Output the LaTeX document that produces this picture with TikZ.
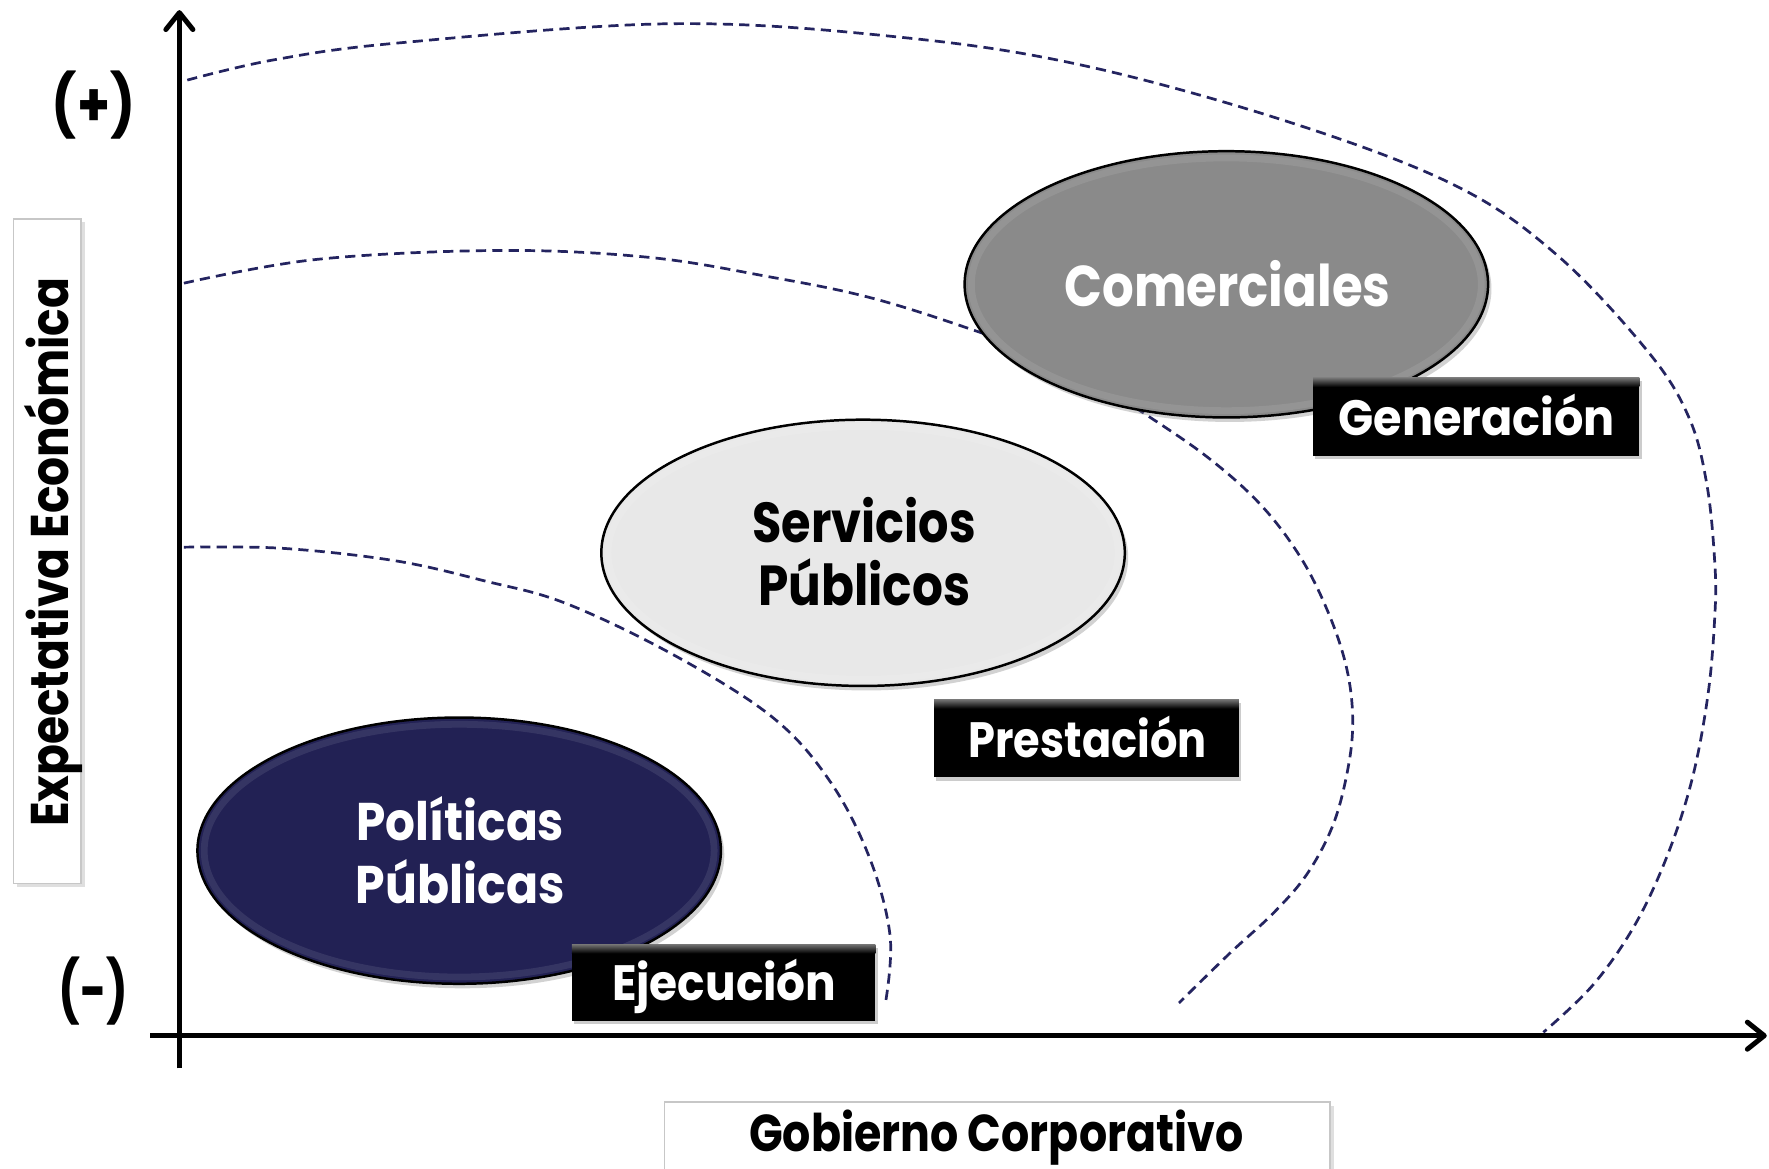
\documentclass[tikz,border=0pt]{standalone}
\usepackage{fontspec}
\setmainfont{Poppins}
\usepackage{graphicx}
\usetikzlibrary{shapes.geometric,shadows,arrows.meta}
\definecolor{navyd}{RGB}{36,36,96}
\definecolor{polfill}{RGB}{34,33,84}
\definecolor{servfill}{RGB}{232,232,232}
\definecolor{comfill}{RGB}{138,138,138}
\newcommand\wfit[2]{\resizebox{#1pt}{\height}{#2}}
\tikzset{
  guide/.style={draw=navyd, line width=2.4pt, dash pattern=on 9pt off 5.5pt},
  axisline/.style={line width=4.4pt, draw=black, -{Straight Barb[length=15pt,width=24pt,round]}},
  oval/.style={ellipse, draw=black, line width=2.2pt, inner sep=0pt, outer sep=0pt,
     minimum width=464pt, minimum height=236pt,
     drop shadow={shadow xshift=3pt, shadow yshift=-4pt, opacity=0.35}},
  bevel/.style={white, opacity=0.09, line width=6pt},
  blackbox/.style={rectangle, fill=black, draw=none, inner sep=0pt, outer sep=0pt,
     drop shadow={shadow xshift=2pt, shadow yshift=-3pt, opacity=0.4}},
  whitebox/.style={rectangle, fill=white, draw=black!22, line width=1.5pt, inner sep=0pt,
     drop shadow={shadow xshift=3pt, shadow yshift=-3pt, opacity=0.25}},
  lbl/.style={inner sep=0pt, outer sep=0pt, anchor=base},
}
\begin{document}
\begin{tikzpicture}[x=1pt,y=-1pt]
\useasboundingbox (0,0) rectangle (1568,1036);
\fill[white] (0,0) rectangle (1568,1036);

% dashed guide curves
\draw[guide] plot[smooth, tension=0.6] coordinates {(166,71) (243,53) (354,38) (596,21) (798,33) (960,58) (1142,108) (1289,164) (1380,226) (1461,312) (1497,370) (1513,430) (1520,500) (1520,545) (1514,615) (1500,690) (1478,758) (1449,820) (1412,873) (1368,915)};
\draw[guide] plot[smooth, tension=0.6] coordinates {(163,251) (280,230) (442,222) (574,228) (680,245) (772,264) (867,294) (950,325) (1009,363) (1070,405) (1118,448) (1154,496) (1179,547) (1194,594) (1199,638) (1195,680) (1182,730) (1159,774) (1129,809) (1090,845) (1045,889)};
\draw[guide] plot[smooth, tension=0.6] coordinates {(163,485) (250,486) (350,497) (430,515) (502,535) (598,581) (685,636) (736,693) (771,761) (789,830) (785,888)};

% axes
\coordinate (ybot) at (159,947);
\coordinate (ytop) at (159,9);
\coordinate (xl) at (133,918);
\coordinate (xr) at (1566,918);
\draw[axisline] (ybot) -- (ytop);
\draw[axisline] (xl) -- (xr);

% axis marks
\node[inner sep=0pt, font=\bfseries\fontsize{54}{54}\selectfont] (plus) at (83,93) {\wfit{74}{(+)}};
\node[inner sep=0pt, font=\bfseries\fontsize{54}{54}\selectfont] (minus) at (83,878) {\wfit{62}{(-)}};

% axis title boxes
\node[whitebox, minimum width=60pt, minimum height=589pt] (ybox) at (42,488.5) {};
\node[lbl, rotate=90, font=\bfseries\fontsize{47}{47}\selectfont] (ytxt) at (61,489.5) {\wfit{487}{Expectativa Económica}};
\node[whitebox, minimum width=590pt, minimum height=63pt] (xbox) at (884,1008.5) {};
\node[lbl, font=\bfseries\fontsize{46}{46}\selectfont] (xtxt) at (883,1021) {\wfit{438}{Gobierno Corporativo}};

% ellipses
\node[oval, fill=polfill] (pol) at (407,754) {};
\draw[bevel] (pol.center) ellipse [x radius=226, y radius=112];
\node[lbl, white, font=\bfseries\fontsize{47}{47}\selectfont] (polA) at (408,745) {\wfit{184}{Políticas}};
\node[lbl, white, font=\bfseries\fontsize{47}{47}\selectfont] (polB) at (408,801) {\wfit{185}{Públicas}};

\node[oval, fill=servfill] (ser) at (765,490) {};
\draw[bevel] (ser.center) ellipse [x radius=226, y radius=112];
\node[lbl, black, font=\bfseries\fontsize{50}{50}\selectfont] (serA) at (766,481) {\wfit{198}{Servicios}};
\node[lbl, black, font=\bfseries\fontsize{50}{50}\selectfont] (serB) at (766,537) {\wfit{188}{Públicos}};

\node[oval, fill=comfill] (com) at (1087,252) {};
\draw[bevel] (com.center) ellipse [x radius=226, y radius=112];
\node[lbl, white, font=\bfseries\fontsize{51}{51}\selectfont] (comA) at (1088,272) {\wfit{289}{Comerciales}};

% black label boxes
\node[blackbox, minimum width=289pt, minimum height=69pt] (gen) at (1308.5,369.5) {};
\shade[top color=black!55, bottom color=black] (1164,335) rectangle (1453,343);
\node[lbl, white, font=\bfseries\fontsize{44}{44}\selectfont] (genT) at (1309,386) {\wfit{245}{Generación}};

\node[blackbox, minimum width=270pt, minimum height=69pt] (pre) at (963,654.5) {};
\shade[top color=black!55, bottom color=black] (828,620) rectangle (1098,628);
\node[lbl, white, font=\bfseries\fontsize{44}{44}\selectfont] (preT) at (964,671) {\wfit{211}{Prestación}};

\node[blackbox, minimum width=269pt, minimum height=68pt] (eje) at (641.5,871) {};
\shade[top color=black!55, bottom color=black] (507,837) rectangle (776,845);
\node[lbl, white, font=\bfseries\fontsize{44}{44}\selectfont] (ejeT) at (642,887) {\wfit{199}{Ejecución}};
\end{tikzpicture}
\end{document}
